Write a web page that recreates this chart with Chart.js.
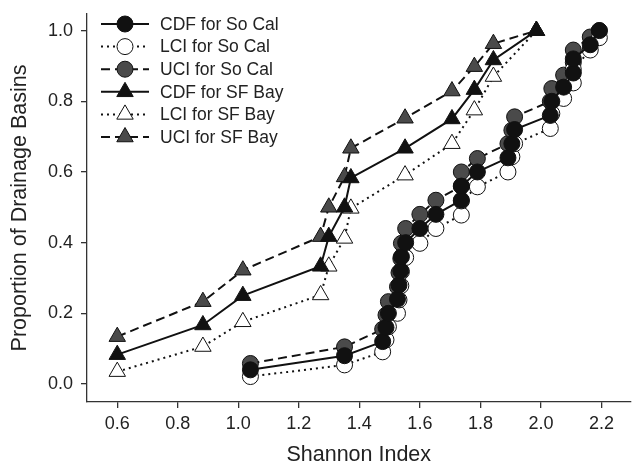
<!DOCTYPE html>
<html>
<head>
<meta charset="utf-8">
<script src="https://cdn.jsdelivr.net/npm/chart.js@4.4.1/dist/chart.umd.min.js"></script>
<style>
  html, body { margin: 0; padding: 0; background: #fff; }
  #wrap { width: 641px; height: 467px; }
</style>
</head>
<body>
<div id="wrap"><canvas id="cdfChart" width="641" height="467"></canvas></div>
<script>
// === DATA ===
const socalX   = [1.04, 1.351, 1.477, 1.488, 1.496, 1.526, 1.531, 1.537, 1.539, 1.553, 1.600, 1.653, 1.737, 1.737, 1.790, 1.891, 1.904, 1.913, 2.031, 2.036, 2.075, 2.107, 2.107, 2.163, 2.193];
const socalCdf = [0.04, 0.08, 0.12, 0.16, 0.20, 0.24, 0.28, 0.32, 0.36, 0.40, 0.44, 0.48, 0.52, 0.56, 0.60, 0.64, 0.68, 0.72, 0.76, 0.80, 0.84, 0.88, 0.92, 0.96, 1.00];
const socalLci = [0.021, 0.054, 0.091, 0.125, 0.162, 0.200, 0.238, 0.278, 0.318, 0.358, 0.398, 0.440, 0.478, 0.518, 0.558, 0.600, 0.643, 0.680, 0.723, 0.765, 0.808, 0.852, 0.890, 0.945, 0.980];
const socalUci = [0.058, 0.105, 0.155, 0.195, 0.233, 0.275, 0.315, 0.355, 0.398, 0.440, 0.480, 0.520, 0.560, 0.600, 0.638, 0.680, 0.718, 0.756, 0.800, 0.836, 0.874, 0.910, 0.945, 0.982, 1.000];

const sfX   = [0.600, 0.883, 1.015, 1.272, 1.299, 1.351, 1.372, 1.551, 1.706, 1.780, 1.843, 1.985];
const sfCdf = [0.083, 0.167, 0.250, 0.333, 0.417, 0.500, 0.583, 0.667, 0.750, 0.833, 0.917, 1.000];
const sfLci = [0.035, 0.106, 0.176, 0.252, 0.333, 0.412, 0.497, 0.591, 0.680, 0.775, 0.870, 1.000];
const sfUci = [0.134, 0.233, 0.322, 0.417, 0.500, 0.586, 0.667, 0.752, 0.829, 0.898, 0.963, 1.000];

const xTicks = [0.6, 0.8, 1.0, 1.2, 1.4, 1.6, 1.8, 2.0, 2.2];
const yTicks = [0.0, 0.2, 0.4, 0.6, 0.8, 1.0];

const seriesLabels = ['CDF for So Cal', 'LCI for So Cal', 'UCI for So Cal', 'CDF for SF Bay', 'LCI for SF Bay', 'UCI for SF Bay'];

const BLACK = '#111111', GRAY = '#4a4a4a', WHITE = '#ffffff';
const SOLID = [], DOTTED = [2, 4], DASHED = [9, 5];
const FONT = '"Liberation Sans", Arial, Helvetica, sans-serif';

const pts = (xs, ys) => xs.map((x, i) => ({ x, y: ys[i] }));

const styles = [
    { data: pts(socalX, socalCdf), shape: 'circle', fill: BLACK, dash: SOLID },
    { data: pts(socalX, socalLci), shape: 'circle', fill: WHITE, dash: DOTTED },
    { data: pts(socalX, socalUci), shape: 'circle', fill: GRAY, dash: DASHED },
    { data: pts(sfX, sfCdf), shape: 'triangle', fill: BLACK, dash: SOLID },
    { data: pts(sfX, sfLci), shape: 'triangle', fill: WHITE, dash: DOTTED },
    { data: pts(sfX, sfUci), shape: 'triangle', fill: GRAY, dash: DASHED }
];

const datasets = styles.map((s, i) => ({
    label: seriesLabels[i],
    data: s.data,
    showLine: true,
    borderColor: BLACK,
    borderWidth: 2,
    borderDash: s.dash,
    pointStyle: s.shape,
    pointRadius: s.shape === 'circle' ? 8 : 9.5,
    pointHoverRadius: s.shape === 'circle' ? 8 : 9.5,
    pointBackgroundColor: s.fill,
    pointBorderColor: BLACK,
    pointBorderWidth: 1,
    tension: 0
}));

// draw a legend marker the same way as the plot symbols
function marker(ctx, shape, x, y, fill) {
    ctx.save();
    ctx.setLineDash([]);
    ctx.fillStyle = fill;
    ctx.strokeStyle = BLACK;
    ctx.lineWidth = 1;
    ctx.beginPath();
    if (shape === 'circle') {
        ctx.arc(x, y, 8, 0, Math.PI * 2);
    } else {
        const r = 9.5;
        let a = 0;
        ctx.moveTo(x + Math.sin(a) * r, y - Math.cos(a) * r);
        a += Math.PI * 2 / 3; ctx.lineTo(x + Math.sin(a) * r, y - Math.cos(a) * r);
        a += Math.PI * 2 / 3; ctx.lineTo(x + Math.sin(a) * r, y - Math.cos(a) * r);
        ctx.closePath();
    }
    ctx.fill();
    ctx.stroke();
    ctx.restore();
}

const legendPlugin = {
    id: 'lineLegend',
    afterDraw(chart) {
        const ctx = chart.ctx;
        ctx.save();
        styles.forEach((s, i) => {
            const y = 24 + i * 22.6;
            ctx.strokeStyle = BLACK;
            ctx.lineWidth = 2;
            ctx.setLineDash(s.dash);
            ctx.beginPath();
            ctx.moveTo(101, y);
            ctx.lineTo(149, y);
            ctx.stroke();
            marker(ctx, s.shape, 125, y, s.fill);
            ctx.fillStyle = '#222';
            ctx.font = '17.5px ' + FONT;
            ctx.textBaseline = 'middle';
            ctx.textAlign = 'left';
            ctx.fillText(seriesLabels[i], 160, y + 1);
        });
        ctx.restore();
    }
};

const axisGrid = { display: true, drawOnChartArea: false, drawTicks: true, tickLength: 6, color: '#333', lineWidth: 1.3 };
const axisBorder = { display: true, color: '#333', width: 1.3 };

new Chart(document.getElementById('cdfChart').getContext('2d'), {
    type: 'scatter',
    data: { datasets },
    plugins: [legendPlugin],
    options: {
        responsive: false,
        animation: false,
        events: [],
        layout: { padding: { top: 14, right: 0, bottom: 0, left: 0 } },
        plugins: { legend: { display: false }, tooltip: { enabled: false } },
        scales: {
            x: {
                type: 'linear', min: 0.5, max: 2.296,
                grid: axisGrid, border: axisBorder,
                afterBuildTicks: s => { s.ticks = xTicks.map(v => ({ value: v })); },
                afterFit: s => { s.height = 65; s.paddingLeft = 0; s.paddingRight = 0; },
                ticks: { color: '#222', padding: 5, font: { family: FONT, size: 18 }, callback: v => v.toFixed(1), maxRotation: 0 },
                title: { display: true, text: 'Shannon Index', color: '#222', font: { family: FONT, size: 21.5, lineHeight: 1.1 }, padding: { top: 0, bottom: 0 } }
            },
            y: {
                type: 'linear', min: -0.051, max: 1.047,
                grid: axisGrid, border: axisBorder,
                afterBuildTicks: s => { s.ticks = yTicks.map(v => ({ value: v })); },
                afterFit: s => { s.width = 87; s.paddingTop = 0; s.paddingBottom = 0; },
                ticks: { color: '#222', padding: 8, font: { family: FONT, size: 18 }, callback: v => v.toFixed(1) },
                title: { display: true, text: 'Proportion of Drainage Basins', color: '#222', font: { family: FONT, size: 21.5, lineHeight: 1.1 }, padding: { top: 8, bottom: 0 } }
            }
        }
    }
});
</script>
</body>
</html>
